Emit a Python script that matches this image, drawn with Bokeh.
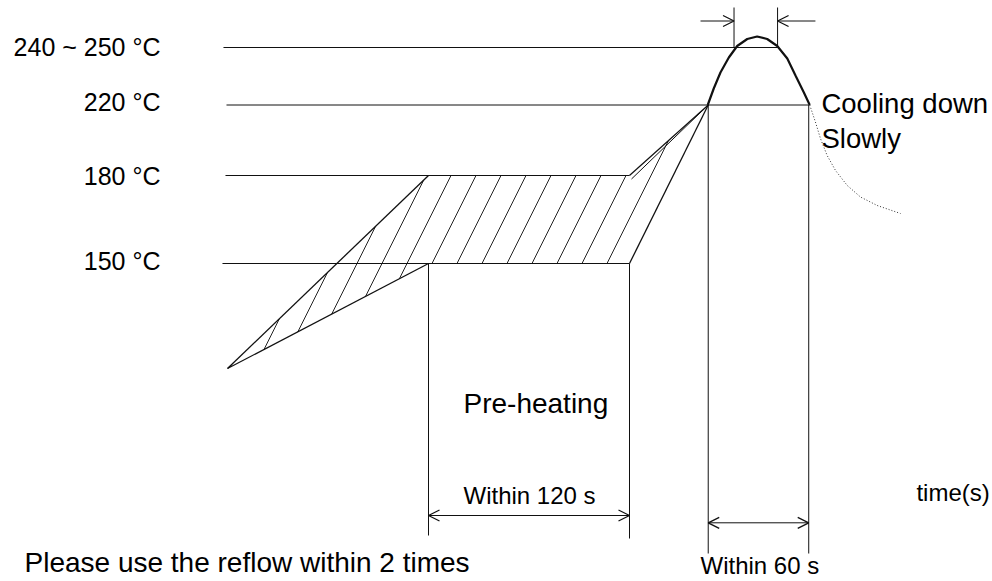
from bokeh.plotting import figure
from bokeh.models import Range1d, Arrow, OpenHead
from bokeh.core.properties import value
from bokeh.embed import file_html
from bokeh.resources import INLINE

# ---------------- data (schematic reflow profile) ----------------
# time axis in seconds, vertical axis in schematic profile levels
temp_labels = ["240 ~ 250 °C", "220 °C", "180 °C", "150 °C"]
temp_level = [47, 104.5, 175, 263]            # drawn level of each isotherm
temp_line_start = [-2.4, -0.6, -1.2, -3.0]    # s
temp_line_end = [328.4, 347, 240, 240]        # s
ambient_level = 368

t_ramp_start = 0
t_pre_start = 120
t_pre_end = 240
t_peak_start = 287
t_peak_end = 347

# pre-heating zone outline
zone_t = [t_ramp_start, t_pre_start, t_pre_end, t_peak_start, t_pre_end, t_pre_start]
zone_level = [ambient_level, 175, 175, 104.5, 263, 263]

# peak (reflow) curve
peak_t = [286.7, 290.3, 294.3, 299.3, 304.3, 310.3, 316.2, 322.2, 328.2, 334.2, 339.1, 344.1, 347.6]
peak_level = [104.5, 88, 72, 57, 45.5, 38.5, 36, 38.5, 45.5, 58, 75, 92, 104.5]

# cooling curve
cool_t = [347.6, 351.0, 354.0, 358.0, 363.0, 370.0, 377.9, 387.9, 401.8]
cool_level = [104.5, 121.5, 138, 155, 170, 185, 196.5, 205, 213]

# time markers
marker_t = [t_pre_start, t_pre_end, t_peak_start, t_peak_end]
marker_top = [263, 263, 104.5, 104.5]
marker_bottom = [535, 538, 553, 553]
peak_marker_t = [302.4, 328.4]

texts_note = ["Cooling down", "Slowly", "Pre-heating", "Within 120 s", "time(s)",
              "Within 60 s", "Please use the reflow within 2 times"]

# ---------------- figure ----------------
K = 1.675  # px per second
X0 = 227   # page x of t = 0
W, H = 992, 581
p = figure(width=W, height=H,
           x_range=Range1d((0 - X0) / K, (W - X0) / K),
           y_range=Range1d(H, 0),
           output_backend="svg", toolbar_location=None, min_border=0)
p.axis.visible = False
p.grid.visible = False
p.outline_line_color = None
p.background_fill_color = "white"
p.border_fill_color = "white"

FONT = value("Liberation Sans")
INK = "#111111"

# hatched pre-heating zone
p.patch(zone_t, zone_level, fill_color=None, line_color=None,
        hatch_pattern="/", hatch_scale=50, hatch_weight=1, hatch_color="#222222")

# isotherm lines
for ts, te, lv in zip(temp_line_start, temp_line_end, temp_level):
    p.line([ts, te], [lv, lv], line_color=INK, line_width=1)

# zone edges
p.line([zone_t[0], zone_t[1]], [zone_level[0], zone_level[1]], line_color=INK, line_width=1.3)
p.line([zone_t[0], zone_t[5]], [zone_level[0], zone_level[5]], line_color=INK, line_width=1.3)
p.line([zone_t[2], zone_t[3]], [zone_level[2], zone_level[3]], line_color=INK, line_width=1.2)
p.line([zone_t[2] + 1.2, zone_t[3]], [zone_level[2] + 3.5, zone_level[3]], line_color=INK, line_width=1)
p.line([zone_t[4], zone_t[3]], [zone_level[4], zone_level[3]], line_color=INK, line_width=1.3)

# peak and cooling curves
p.line(peak_t, peak_level, line_color=INK, line_width=2.2)
p.line(cool_t, cool_level, line_color="#333333", line_width=1, line_dash="1 2")

# vertical markers
for t, a, b in zip(marker_t, marker_top, marker_bottom):
    p.line([t, t], [a, b], line_color=INK, line_width=1)
for t in peak_marker_t:
    p.line([t, t], [7, 47], line_color=INK, line_width=1)

# arrows
def arrow(x0, x1, y, both=False):
    p.add_layout(Arrow(x_start=x0, y_start=y, x_end=x1, y_end=y,
                       line_color=INK, line_width=1,
                       end=OpenHead(size=11, line_color=INK, line_width=1.3),
                       start=OpenHead(size=11, line_color=INK, line_width=1.3) if both else None))

arrow(t_pre_start, t_pre_end, 515, both=True)
arrow(t_peak_start, t_peak_end, 522.3, both=True)
arrow(282.4, peak_marker_t[0], 20.5)
arrow(351.0, peak_marker_t[1], 20.5)

# texts
p.text(x=[-40] * 4, y=[46.8, 101, 175.5, 260.5], text=temp_labels,
       text_font=FONT, text_font_size=value("25px"), text_align="right",
       text_baseline="middle", text_color="black")

def label(txt, t, y, size):
    p.text(x=[t], y=[y], text=[txt], text_font=FONT, text_font_size=value(size),
           text_align="left", text_baseline="middle", text_color="black")

label(texts_note[0], 354.6, 103, "27.5px")
label(texts_note[1], 354.6, 137.5, "27.5px")
label(texts_note[2], 140.9, 403.3, "28px")
label(texts_note[3], 140.9, 495, "24px")
label(texts_note[4], 411.3, 491.5, "24px")
label(texts_note[5], 282.4, 565, "24px")
label(texts_note[6], -121.2, 562, "28px")

open("out.html", "w").write(file_html(p, INLINE))
